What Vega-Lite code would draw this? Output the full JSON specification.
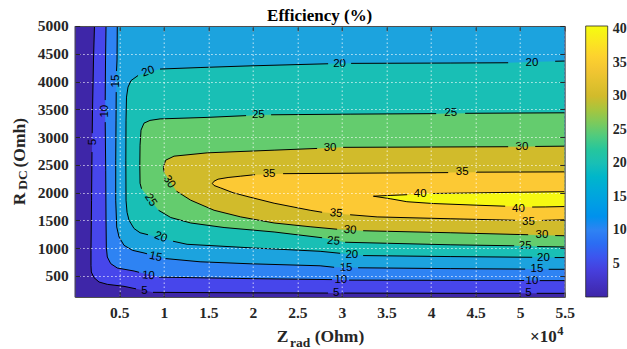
{
  "$schema": "https://vega.github.io/schema/vega-lite/v6.json",
  "width": 490,
  "height": 271,
  "autosize": {"type": "none"},
  "padding": {"left": 74.7, "top": 26, "right": 62.3, "bottom": 52.3},
  "background": "white",
  "title": {"text": "Efficiency (%)", "font": "Liberation Serif", "fontWeight": "bold", "fontSize": 17, "color": "#000000", "offset": 4, "dy": 10.5, "anchor": "middle"},
  "config": {
    "view": {"fill": "#3E26A8", "stroke": null},
    "axis": {
      "labelFont": "Liberation Serif", "labelFontWeight": "bold", "labelFontSize": 15.5, "labelColor": "#262626",
      "titleFont": "Liberation Serif", "titleFontWeight": "bold", "titleColor": "#262626",
      "domainColor": "#4d4d4d", "tickColor": "#262626", "tickSize": -5,
      "gridColor": "#ffffff", "gridOpacity": 0.75, "gridDash": [1.5, 2.5], "gridWidth": 1,
      "zindex": 1, "labelFlush": false, "labelOverlap": false, "titlePadding": 0
    }
  },
  "datasets": {
    "c": [
      {"lv":5,"i":1,"x":2220,"y":5000,"s":1},{"lv":5,"i":2,"x":2110,"y":4387,"s":1},{"lv":5,"i":3,"x":2000,"y":3485,"s":1},{"lv":5,"i":4,"x":1965,"y":3070,"s":1},
      {"lv":5,"i":5,"x":1940,"y":2730,"s":2},{"lv":5,"i":6,"x":1890,"y":1863,"s":2},{"lv":5,"i":7,"x":1830,"y":961,"s":2},{"lv":5,"i":8,"x":1830,"y":691,"s":2},{"lv":5,"i":9,"x":1865,"y":570,"s":2},{"lv":5,"i":10,"x":2165,"y":469,"s":2},{"lv":5,"i":11,"x":2730,"y":390,"s":2},{"lv":5,"i":12,"x":3660,"y":348,"s":2},{"lv":5,"i":13,"x":5535,"y":312,"s":2},{"lv":5,"i":14,"x":6880,"y":267,"s":2},
      {"lv":5,"i":15,"x":8790,"y":204,"s":3},{"lv":5,"i":16,"x":19690,"y":195,"s":3},{"lv":5,"i":17,"x":28440,"y":191,"s":3},
      {"lv":5,"i":18,"x":30240,"y":191,"s":4},{"lv":5,"i":19,"x":42140,"y":186,"s":4},{"lv":5,"i":20,"x":50000,"y":186,"s":4},
      {"lv":5,"i":21,"x":51860,"y":186,"s":5},{"lv":5,"i":22,"x":55000,"y":186,"s":5},{"lv":5,"i":23,"x":55000,"y":5000,"s":0},

      {"lv":10,"i":1,"x":3515,"y":5000,"s":1},{"lv":10,"i":2,"x":3460,"y":4387,"s":1},{"lv":10,"i":3,"x":3425,"y":3666,"s":1},
      {"lv":10,"i":4,"x":3425,"y":3269,"s":2},{"lv":10,"i":5,"x":3480,"y":2404,"s":2},{"lv":10,"i":6,"x":3515,"y":1502,"s":2},{"lv":10,"i":7,"x":3550,"y":1015,"s":2},{"lv":10,"i":8,"x":3660,"y":840,"s":2},{"lv":10,"i":9,"x":4040,"y":721,"s":2},{"lv":10,"i":10,"x":4780,"y":642,"s":2},{"lv":10,"i":11,"x":6660,"y":588,"s":2},{"lv":10,"i":12,"x":7220,"y":565,"s":2},
      {"lv":10,"i":13,"x":9470,"y":478,"s":3},{"lv":10,"i":14,"x":19685,"y":451,"s":3},{"lv":10,"i":15,"x":28890,"y":433,"s":3},
      {"lv":10,"i":16,"x":30800,"y":424,"s":4},{"lv":10,"i":17,"x":42140,"y":420,"s":4},{"lv":10,"i":18,"x":50450,"y":417,"s":4},
      {"lv":10,"i":19,"x":52190,"y":415,"s":5},{"lv":10,"i":20,"x":55000,"y":415,"s":5},{"lv":10,"i":21,"x":55000,"y":5000,"s":0},

      {"lv":15,"i":1,"x":4780,"y":5000,"s":1},{"lv":15,"i":2,"x":4750,"y":4387,"s":1},{"lv":15,"i":3,"x":4695,"y":4189,"s":1},
      {"lv":15,"i":4,"x":4660,"y":3810,"s":2},{"lv":15,"i":5,"x":4640,"y":3305,"s":2},{"lv":15,"i":6,"x":4605,"y":2584,"s":2},{"lv":15,"i":7,"x":4605,"y":1863,"s":2},{"lv":15,"i":8,"x":4715,"y":1381,"s":2},{"lv":15,"i":9,"x":4975,"y":1201,"s":2},{"lv":15,"i":10,"x":5535,"y":1051,"s":2},{"lv":15,"i":11,"x":6470,"y":961,"s":2},{"lv":15,"i":12,"x":7780,"y":913,"s":2},{"lv":15,"i":13,"x":8120,"y":898,"s":2},
      {"lv":15,"i":14,"x":10200,"y":812,"s":3},{"lv":15,"i":15,"x":14070,"y":754,"s":3},{"lv":15,"i":16,"x":19685,"y":718,"s":3},{"lv":15,"i":17,"x":27545,"y":682,"s":3},{"lv":15,"i":18,"x":29120,"y":655,"s":3},
      {"lv":15,"i":19,"x":31810,"y":646,"s":4},{"lv":15,"i":20,"x":42140,"y":631,"s":4},{"lv":15,"i":21,"x":50565,"y":622,"s":4},
      {"lv":15,"i":22,"x":53200,"y":619,"s":5},{"lv":15,"i":23,"x":55000,"y":619,"s":5},{"lv":15,"i":24,"x":55000,"y":5000,"s":0},

      {"lv":20,"i":1,"x":55000,"y":4369,"s":1},{"lv":20,"i":2,"x":53930,"y":4365,"s":1},
      {"lv":20,"i":3,"x":48655,"y":4338,"s":2},{"lv":20,"i":4,"x":42140,"y":4333,"s":2},{"lv":20,"i":5,"x":31025,"y":4327,"s":2},
      {"lv":20,"i":6,"x":28445,"y":4320,"s":3},{"lv":20,"i":7,"x":19685,"y":4282,"s":3},{"lv":20,"i":8,"x":14070,"y":4252,"s":3},{"lv":20,"i":9,"x":9580,"y":4225,"s":3},
      {"lv":20,"i":10,"x":7110,"y":4108,"s":4},{"lv":20,"i":11,"x":6320,"y":4017,"s":4},{"lv":20,"i":12,"x":5985,"y":3900,"s":4},{"lv":20,"i":13,"x":5815,"y":3720,"s":4},{"lv":20,"i":14,"x":5760,"y":3305,"s":4},{"lv":20,"i":15,"x":5740,"y":2584,"s":4},{"lv":20,"i":16,"x":5760,"y":1863,"s":4},{"lv":20,"i":17,"x":5875,"y":1646,"s":4},{"lv":20,"i":18,"x":6100,"y":1502,"s":4},{"lv":20,"i":19,"x":6660,"y":1353,"s":4},{"lv":20,"i":20,"x":7335,"y":1277,"s":4},{"lv":20,"i":21,"x":8230,"y":1241,"s":4},
      {"lv":20,"i":22,"x":11040,"y":1124,"s":5},{"lv":20,"i":23,"x":12610,"y":1069,"s":5},{"lv":20,"i":24,"x":19685,"y":1006,"s":5},{"lv":20,"i":25,"x":27545,"y":943,"s":5},{"lv":20,"i":26,"x":29790,"y":907,"s":5},
      {"lv":20,"i":27,"x":32375,"y":866,"s":6},{"lv":20,"i":28,"x":42140,"y":848,"s":6},{"lv":20,"i":29,"x":51350,"y":835,"s":6},
      {"lv":20,"i":30,"x":53875,"y":830,"s":7},{"lv":20,"i":31,"x":55000,"y":830,"s":7},

      {"lv":25,"i":1,"x":55000,"y":3437,"s":1},{"lv":25,"i":2,"x":43825,"y":3428,"s":1},
      {"lv":25,"i":3,"x":40570,"y":3422,"s":2},{"lv":25,"i":4,"x":30915,"y":3413,"s":2},{"lv":25,"i":5,"x":22045,"y":3401,"s":2},
      {"lv":25,"i":6,"x":19235,"y":3386,"s":3},{"lv":25,"i":7,"x":14855,"y":3354,"s":3},{"lv":25,"i":8,"x":9580,"y":3327,"s":3},{"lv":25,"i":9,"x":8455,"y":3300,"s":3},{"lv":25,"i":10,"x":7780,"y":3251,"s":3},{"lv":25,"i":11,"x":7445,"y":3125,"s":3},{"lv":25,"i":12,"x":7335,"y":2854,"s":3},{"lv":25,"i":13,"x":7310,"y":2494,"s":3},{"lv":25,"i":14,"x":7335,"y":2169,"s":3},{"lv":25,"i":15,"x":7500,"y":2070,"s":3},
      {"lv":25,"i":16,"x":9410,"y":1682,"s":4},{"lv":25,"i":17,"x":10780,"y":1551,"s":4},{"lv":25,"i":18,"x":13025,"y":1453,"s":4},{"lv":25,"i":19,"x":16765,"y":1371,"s":4},{"lv":25,"i":20,"x":22380,"y":1291,"s":4},{"lv":25,"i":21,"x":27770,"y":1187,"s":4},
      {"lv":25,"i":22,"x":30350,"y":1106,"s":5},{"lv":25,"i":23,"x":42140,"y":1060,"s":5},{"lv":25,"i":24,"x":49330,"y":1042,"s":5},
      {"lv":25,"i":25,"x":51910,"y":1028,"s":6},{"lv":25,"i":26,"x":55000,"y":1021,"s":6},

      {"lv":30,"i":1,"x":55000,"y":2836,"s":1},{"lv":30,"i":2,"x":51690,"y":2831,"s":1},
      {"lv":30,"i":3,"x":48655,"y":2826,"s":2},{"lv":30,"i":4,"x":30130,"y":2815,"s":2},
      {"lv":30,"i":5,"x":27210,"y":2795,"s":3},{"lv":30,"i":6,"x":22380,"y":2764,"s":3},{"lv":30,"i":7,"x":14890,"y":2716,"s":3},{"lv":30,"i":8,"x":11150,"y":2656,"s":3},{"lv":30,"i":9,"x":10220,"y":2584,"s":3},{"lv":30,"i":10,"x":9950,"y":2463,"s":3},{"lv":30,"i":11,"x":10030,"y":2368,"s":3},
      {"lv":30,"i":12,"x":11430,"y":2025,"s":4},{"lv":30,"i":13,"x":13025,"y":1863,"s":4},{"lv":30,"i":14,"x":15640,"y":1682,"s":4},{"lv":30,"i":15,"x":18640,"y":1562,"s":4},{"lv":30,"i":16,"x":22380,"y":1453,"s":4},{"lv":30,"i":17,"x":26420,"y":1385,"s":4},{"lv":30,"i":18,"x":29455,"y":1340,"s":4},
      {"lv":30,"i":19,"x":32375,"y":1313,"s":5},{"lv":30,"i":20,"x":42140,"y":1277,"s":5},{"lv":30,"i":21,"x":50900,"y":1241,"s":5},
      {"lv":30,"i":22,"x":53935,"y":1226,"s":6},{"lv":30,"i":23,"x":55000,"y":1223,"s":6},

      {"lv":35,"i":1,"x":55000,"y":2373,"s":1},{"lv":35,"i":2,"x":45060,"y":2368,"s":1},
      {"lv":35,"i":3,"x":41920,"y":2360,"s":2},{"lv":35,"i":4,"x":23390,"y":2341,"s":2},
      {"lv":35,"i":5,"x":20245,"y":2323,"s":3},{"lv":35,"i":6,"x":18640,"y":2296,"s":3},{"lv":35,"i":7,"x":17215,"y":2272,"s":3},{"lv":35,"i":8,"x":16090,"y":2242,"s":3},{"lv":35,"i":9,"x":15640,"y":2205,"s":3},{"lv":35,"i":10,"x":15450,"y":2164,"s":3},{"lv":35,"i":11,"x":15640,"y":2128,"s":3},{"lv":35,"i":12,"x":16395,"y":2083,"s":3},{"lv":35,"i":13,"x":17775,"y":1998,"s":3},{"lv":35,"i":14,"x":19685,"y":1917,"s":3},{"lv":35,"i":15,"x":22380,"y":1809,"s":3},{"lv":35,"i":16,"x":26420,"y":1682,"s":3},{"lv":35,"i":17,"x":27770,"y":1646,"s":3},
      {"lv":35,"i":18,"x":30915,"y":1601,"s":4},{"lv":35,"i":19,"x":33945,"y":1562,"s":4},{"lv":35,"i":20,"x":42140,"y":1529,"s":4},{"lv":35,"i":21,"x":49440,"y":1502,"s":4},
      {"lv":35,"i":22,"x":52475,"y":1499,"s":5},{"lv":35,"i":23,"x":55000,"y":1511,"s":5},

      {"lv":40,"i":1,"x":55000,"y":2016,"s":1},{"lv":40,"i":2,"x":47755,"y":2002,"s":1},{"lv":40,"i":3,"x":40235,"y":1984,"s":1},
      {"lv":40,"i":4,"x":37315,"y":1962,"s":2},{"lv":40,"i":5,"x":35405,"y":1949,"s":2},{"lv":40,"i":6,"x":33530,"y":1935,"s":2},{"lv":40,"i":7,"x":35405,"y":1890,"s":2},{"lv":40,"i":8,"x":37280,"y":1836,"s":2},{"lv":40,"i":9,"x":40265,"y":1803,"s":2},{"lv":40,"i":10,"x":45140,"y":1773,"s":2},{"lv":40,"i":11,"x":48320,"y":1755,"s":2},
      {"lv":40,"i":12,"x":51350,"y":1740,"s":3},{"lv":40,"i":13,"x":52810,"y":1742,"s":3},{"lv":40,"i":14,"x":55000,"y":1749,"s":3}
    ],
    "t0": [
      {"t":"20","x":51320,"y":4342},{"t":"20","x":29735,"y":4324},
      {"t":"25","x":42200,"y":3426},{"t":"25","x":20615,"y":3395},
      {"t":"30","x":50195,"y":2813},{"t":"30","x":28670,"y":2806},
      {"t":"35","x":43490,"y":2364},{"t":"35","x":21820,"y":2332},
      {"t":"40","x":38775,"y":1966},{"t":"40","x":49810,"y":1713},
      {"t":"35","x":50935,"y":1479},{"t":"30","x":52440,"y":1232},{"t":"25","x":50565,"y":1033},{"t":"20","x":52620,"y":830},{"t":"15","x":51880,"y":625},{"t":"10","x":51320,"y":412},{"t":"5","x":50935,"y":186},
      {"t":"20","x":31105,"y":871},{"t":"15","x":30465,"y":646},{"t":"10","x":29870,"y":424},{"t":"5","x":29340,"y":191},
      {"t":"5","x":7840,"y":222}
    ],
    "t5": [
      {"t":"35","x":29340,"y":1623},{"t":"30","x":30915,"y":1322},{"t":"25","x":29040,"y":1124},{"t":"10","x":8265,"y":502}
    ],
    "t12": [{"t":"15","x":9095,"y":840}],
    "t22": [{"t":"20","x":9655,"y":1196}],
    "t55": [{"t":"25","x":8510,"y":1863},{"t":"30","x":10590,"y":2193}],
    "tm20": [{"t":"20","x":8265,"y":4176}],
    "t270": [{"t":"5","x":2055,"y":2909},{"t":"10","x":3350,"y":3467},{"t":"15","x":4660,"y":4008}]
  },
  "layer": [
    {
      "data": {"name": "c"},
      "mark": {"type": "line", "filled": true, "clip": true, "strokeWidth": 0, "opacity": 1},
      "encoding": {
        "x": {"field": "x", "type": "quantitative", "scale": {"domain": [0, 55000], "nice": false, "zero": false},
          "axis": {"orient": "bottom", "zindex": 1, "values": [5000,10000,15000,20000,25000,30000,35000,40000,45000,50000,55000], "labelExpr": "'' + datum.value / 10000", "labelPadding": 14, "grid": true,
            "title": "Z", "titleFontSize": 17.5, "titleX": 201.5, "titleY": 45, "titleAlign": "left", "titleBaseline": "alphabetic", "titleAngle": 0}},
        "y": {"field": "y", "type": "quantitative", "scale": {"domain": [120, 5000], "nice": false, "zero": false},
          "axis": {"orient": "left", "zindex": 1, "values": [500,1000,1500,2000,2500,3000,3500,4000,4500,5000], "format": "d", "labelPadding": 11.4, "grid": true,
            "title": "R", "titleFontSize": 17.5, "titleAngle": 270, "titleX": -50, "titleY": 178.7, "titleAlign": "left", "titleBaseline": "alphabetic"}},
        "order": {"field": "i", "type": "quantitative"},
        "detail": {"field": "lv", "type": "quantitative"},
        "color": {"field": "lv", "type": "quantitative",
          "scale": {"domain": [0,5,10,15,20,25,30,35,40,40.5], "range": ["#3E26A8","#4746EB","#2E83F3","#1CA3DE","#19BFB5","#64CC6E","#D1BB2B","#FCC934","#F6F812","#F9FB0E"]},
          "legend": {"orient": "right", "offset": 19.5, "direction": "vertical", "type": "gradient", "gradientLength": 271, "gradientThickness": 22,
            "values": [5,10,15,20,25,30,35,40], "title": null, "labelFont": "Liberation Serif", "labelFontWeight": "bold", "labelFontSize": 14, "labelColor": "#262626",
            "labelOffset": 5, "labelOverlap": false, "gradientStrokeColor": "#262626", "gradientStrokeWidth": 0.8, "padding": 0}}
      }
    },
    {
      "data": {"name": "c"},
      "transform": [{"filter": "datum.s > 0"}],
      "mark": {"type": "line", "clip": true, "color": "#000000", "strokeWidth": 1},
      "encoding": {
        "x": {"field": "x", "type": "quantitative", "scale": {"domain": [0, 55000], "nice": false, "zero": false},
          "axis": {"orient": "bottom", "domain": false, "ticks": false, "labels": false, "grid": false, "title": "rad", "titleFontSize": 13.5, "titleX": 225, "titleY": 49.8, "titleAlign": "center", "titleBaseline": "alphabetic", "titleAngle": 0}},
        "y": {"field": "y", "type": "quantitative", "scale": {"domain": [120, 5000], "nice": false, "zero": false},
          "axis": {"orient": "left", "domain": false, "ticks": false, "labels": false, "grid": false, "title": "DC", "titleFontSize": 13.5, "titleAngle": 270, "titleX": -48.2, "titleY": 153.5, "titleAlign": "center", "titleBaseline": "alphabetic"}},
        "order": {"field": "i", "type": "quantitative"},
        "detail": [{"field": "lv", "type": "nominal"}, {"field": "s", "type": "nominal"}]
      }
    },
    {
      "data": {"name": "t0"},
      "mark": {"type": "text", "angle": 0, "font": "Liberation Sans", "fontSize": 11.5, "color": "#000000", "align": "center", "baseline": "middle"},
      "encoding": {
        "x": {"field": "x", "type": "quantitative", "scale": {"domain": [0, 55000], "nice": false, "zero": false},
          "axis": {"orient": "bottom", "domain": false, "ticks": false, "labels": false, "grid": false, "title": "\u00d710", "titleFontSize": 17, "titleX": 481.5, "titleY": 44.5, "titleAlign": "right", "titleBaseline": "alphabetic", "titleAngle": 0}},
        "y": {"field": "y", "type": "quantitative", "scale": {"domain": [120, 5000], "nice": false, "zero": false},
          "axis": {"orient": "right", "zindex": 1, "domain": true, "ticks": true, "labels": false, "grid": false, "title": null, "values": [500,1000,1500,2000,2500,3000,3500,4000,4500,5000]}},
        "text": {"field": "t", "type": "nominal"}
      }
    },
    {
      "data": {"name": "t5"},
      "mark": {"type": "text", "angle": 5, "font": "Liberation Sans", "fontSize": 11.5, "color": "#000000", "align": "center", "baseline": "middle"},
      "encoding": {
        "x": {"field": "x", "type": "quantitative", "scale": {"domain": [0, 55000], "nice": false, "zero": false},
          "axis": {"orient": "top", "zindex": 1, "domain": true, "ticks": true, "labels": false, "grid": false, "title": null, "values": [5000,10000,15000,20000,25000,30000,35000,40000,45000,50000,55000]}},
        "y": {"field": "y", "type": "quantitative", "scale": {"domain": [120, 5000], "nice": false, "zero": false}, "axis": null},
        "text": {"field": "t", "type": "nominal"}
      }
    },
    {
      "data": {"name": "t12"},
      "mark": {"type": "text", "angle": 12, "font": "Liberation Sans", "fontSize": 11.5, "color": "#000000", "align": "center", "baseline": "middle"},
      "encoding": {
        "x": {"field": "x", "type": "quantitative", "scale": {"domain": [0, 55000], "nice": false, "zero": false},
          "axis": {"orient": "bottom", "domain": false, "ticks": false, "labels": false, "grid": false, "title": "4", "titleFontSize": 12.5, "titleX": 482, "titleY": 38, "titleAlign": "left", "titleBaseline": "alphabetic", "titleAngle": 0}},
        "y": {"field": "y", "type": "quantitative", "scale": {"domain": [120, 5000], "nice": false, "zero": false}, "axis": null},
        "text": {"field": "t", "type": "nominal"}
      }
    },
    {
      "data": {"name": "t22"},
      "mark": {"type": "text", "angle": 22, "font": "Liberation Sans", "fontSize": 11.5, "color": "#000000", "align": "center", "baseline": "middle"},
      "encoding": {
        "x": {"field": "x", "type": "quantitative", "scale": {"domain": [0, 55000], "nice": false, "zero": false},
          "axis": {"orient": "bottom", "domain": false, "ticks": false, "labels": false, "grid": false, "title": "(Ohm)", "titleFontSize": 17.5, "titleX": 239.5, "titleY": 45, "titleAlign": "left", "titleBaseline": "alphabetic", "titleAngle": 0}},
        "y": {"field": "y", "type": "quantitative", "scale": {"domain": [120, 5000], "nice": false, "zero": false},
          "axis": {"orient": "left", "domain": false, "ticks": false, "labels": false, "grid": false, "title": "(Omh)", "titleFontSize": 17.5, "titleAngle": 270, "titleX": -50, "titleY": 141, "titleAlign": "left", "titleBaseline": "alphabetic"}},
        "text": {"field": "t", "type": "nominal"}
      }
    },
    {
      "data": {"name": "t55"},
      "mark": {"type": "text", "angle": 57, "font": "Liberation Sans", "fontSize": 11.5, "color": "#000000", "align": "center", "baseline": "middle"},
      "encoding": {
        "x": {"field": "x", "type": "quantitative", "scale": {"domain": [0, 55000], "nice": false, "zero": false}, "axis": null},
        "y": {"field": "y", "type": "quantitative", "scale": {"domain": [120, 5000], "nice": false, "zero": false}, "axis": null},
        "text": {"field": "t", "type": "nominal"}
      }
    },
    {
      "data": {"name": "tm20"},
      "mark": {"type": "text", "angle": 340, "font": "Liberation Sans", "fontSize": 11.5, "color": "#000000", "align": "center", "baseline": "middle"},
      "encoding": {
        "x": {"field": "x", "type": "quantitative", "scale": {"domain": [0, 55000], "nice": false, "zero": false}, "axis": null},
        "y": {"field": "y", "type": "quantitative", "scale": {"domain": [120, 5000], "nice": false, "zero": false}, "axis": null},
        "text": {"field": "t", "type": "nominal"}
      }
    },
    {
      "data": {"name": "t270"},
      "mark": {"type": "text", "angle": 270, "font": "Liberation Sans", "fontSize": 11.5, "color": "#000000", "align": "center", "baseline": "middle"},
      "encoding": {
        "x": {"field": "x", "type": "quantitative", "scale": {"domain": [0, 55000], "nice": false, "zero": false}, "axis": null},
        "y": {"field": "y", "type": "quantitative", "scale": {"domain": [120, 5000], "nice": false, "zero": false}, "axis": null},
        "text": {"field": "t", "type": "nominal"}
      }
    }
  ],
  "resolve": {"axis": {"x": "independent", "y": "independent"}}
}
